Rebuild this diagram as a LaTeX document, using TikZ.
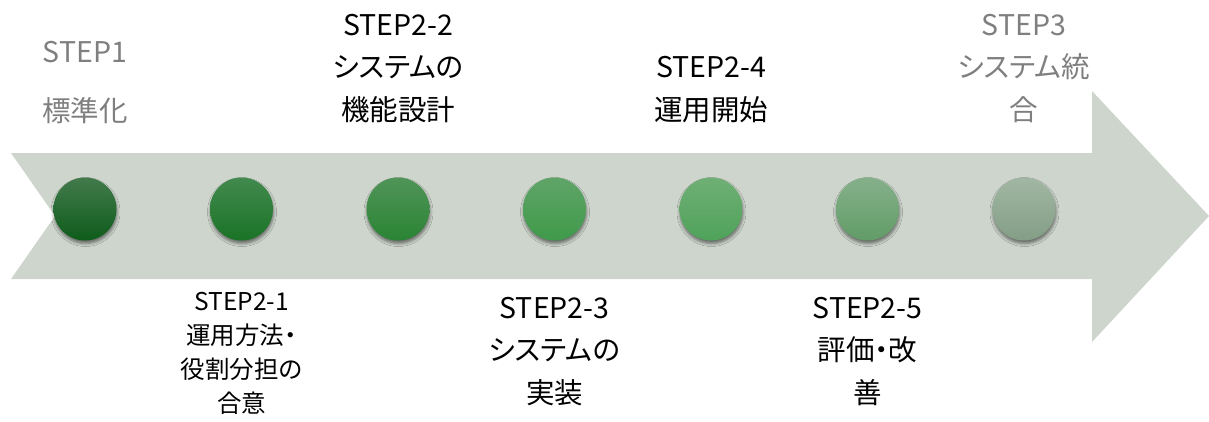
\documentclass[tikz,border=0pt]{standalone}
\usepackage{fontspec}
\setmainfont{Noto Sans CJK JP}[RawFeature=+palt]
\usetikzlibrary{shadows.blur}

\definecolor{bandgray}{HTML}{CDD5CC}
\definecolor{donegray}{HTML}{7F7F7F}

\begin{document}
\begin{tikzpicture}[x=1pt,y=-1pt,
  dot/.style={circle, minimum size=63pt, inner sep=0pt,
    blur shadow={shadow xshift=0.5pt, shadow yshift=-3pt, shadow blur radius=3pt, shadow opacity=50}},
  biglabel/.style={align=center, anchor=base, inner sep=0pt, font=\fontsize{28.5}{42.5}\selectfont},
  smalllabel/.style={align=center, anchor=base, inner sep=0pt, font=\fontsize{24.5}{34}\selectfont},
  done/.style={text=donegray}]

\useasboundingbox (0,0) rectangle (1209,421);

% ---------- band ----------
\fill[bandgray] (11,153) -- (1092,153) -- (1092,91) -- (1209,216)
  -- (1092,342) -- (1092,279) -- (11,279) -- (55,216) -- cycle;

% ---------- dots ----------
\node[dot, top color={rgb,255:red,66;green,122;blue,76},  bottom color={rgb,255:red,14;green,92;blue,26}]   (s1)  at (85,209) {};
\node[dot, top color={rgb,255:red,66;green,138;blue,78},  bottom color={rgb,255:red,26;green,115;blue,38}]  (s21) at (241.5,209) {};
\node[dot, top color={rgb,255:red,80;green,148;blue,88},  bottom color={rgb,255:red,42;green,132;blue,52}]  (s22) at (398,209) {};
\node[dot, top color={rgb,255:red,96;green,164;blue,104}, bottom color={rgb,255:red,63;green,154;blue,74}]  (s23) at (554.5,209) {};
\node[dot, top color={rgb,255:red,111;green,175;blue,117},bottom color={rgb,255:red,79;green,162;blue,90}]  (s24) at (711,209) {};
\node[dot, top color={rgb,255:red,133;green,176;blue,138},bottom color={rgb,255:red,98;green,156;blue,103}] (s25) at (867.5,209) {};
\node[dot, top color={rgb,255:red,162;green,183;blue,163},bottom color={rgb,255:red,131;green,158;blue,134}](s3)  at (1024,209) {};

% ---------- upper labels (anchored at last line) ----------
\node[biglabel, done] (l1)  at (85,121)   {STEP1\\[16.5pt]標準化};
\node[biglabel]       (l22) at (398,120)  {STEP2-2\\システムの\\機能設計};
\node[biglabel]       (l24) at (711,120)  {STEP2-4\\運用開始};
\node[biglabel, done] (l3)  at (1024,120) {STEP3\\システム統\\合};

% ---------- lower labels ----------
\node[smalllabel]     (l21) at (241.5,412) {STEP2-1\\運用方法・\\役割分担の\\合意};
\node[biglabel]       (l23) at (554.5,403) {STEP2-3\\システムの\\実装};
\node[biglabel]       (l25) at (867.5,403) {STEP2-5\\評価・改\\善};

\end{tikzpicture}
\end{document}
